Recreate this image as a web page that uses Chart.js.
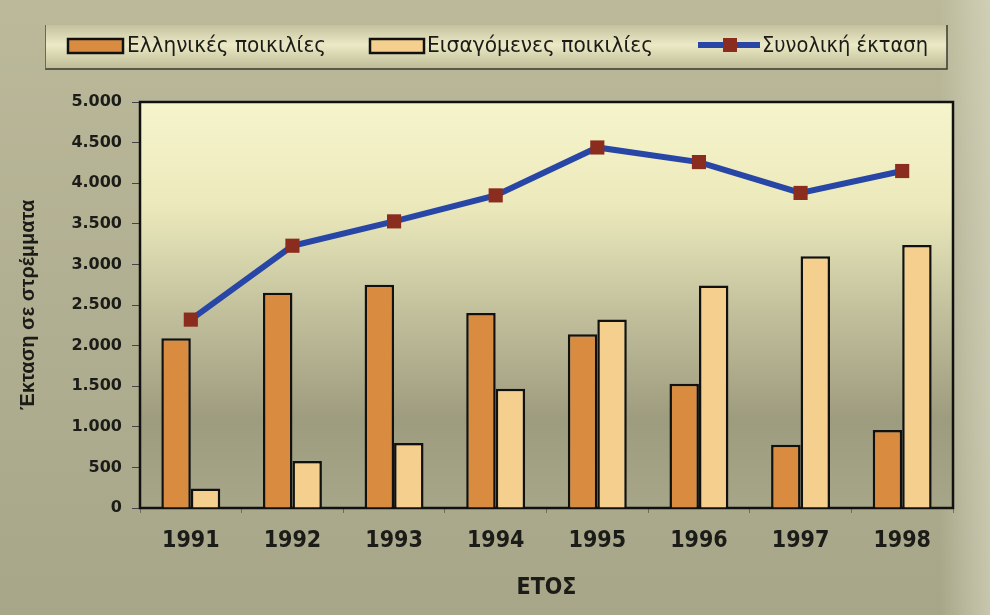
<!DOCTYPE html>
<html><head><meta charset="utf-8">
<script src="https://cdn.jsdelivr.net/npm/chart.js@4.4.1/dist/chart.umd.min.js"></script>
<style>html,body{margin:0;padding:0;background:#b3b192;}#wrap{width:990px;height:615px;}</style>
</head><body><div id="wrap"><canvas id="c" width="990" height="615"></canvas></div>
<script>
// ---- data ----
const years = ['1991', '1992', '1993', '1994', '1995', '1996', '1997', '1998'];
const greekVarieties = [2090, 2650, 2750, 2400, 2140, 1530, 780, 960];
const importedVarieties = [240, 580, 800, 1470, 2320, 2740, 3100, 3240];
const totalArea = [2320, 3230, 3530, 3850, 4440, 4260, 3880, 4150];
const seriesNames = ['Ελληνικές ποικιλίες', 'Εισαγόμενες ποικιλίες', 'Συνολική έκταση'];
const yAxisTitle = 'Έκταση σε στρέμματα';
const xAxisTitle = 'ΕΤΟΣ';
const yMin = 0, yMax = 5000, yStep = 500;

// ---- styles ----
const C_ORANGE = '#d98c40';
const C_LIGHT = '#f5cf8e';
const C_LINE = '#2846a6';
const C_MARK = '#8a2d1e';
const TXT = '#1b1b17';
const NARROW = "'Liberation Sans Narrow','DejaVu Sans Condensed','Liberation Sans',Arial,sans-serif";

function fmt(v){ return String(v).replace(/\B(?=(\d{3})+(?!\d))/g, '.'); }

function fitText(ctx, text, x, y, w, font){
  ctx.save();
  ctx.font = font;
  const m = ctx.measureText(text).width;
  ctx.translate(x, y);
  ctx.scale(w / m, 1);
  ctx.fillText(text, 0, 0);
  ctx.restore();
}

const bgPlugin = {
  id: 'bg',
  beforeDraw(chart){
    const ctx = chart.ctx, W = chart.width, H = chart.height, a = chart.chartArea;
    ctx.save();
    let g = ctx.createLinearGradient(0, 0, 0, H);
    g.addColorStop(0, '#bbb99a'); g.addColorStop(0.5, '#b1af91'); g.addColorStop(1, '#a8a688');
    ctx.fillStyle = g; ctx.fillRect(0, 0, W, H);
    let gr = ctx.createLinearGradient(940, 0, W, 0);
    gr.addColorStop(0, 'rgba(230,230,210,0)'); gr.addColorStop(1, 'rgba(225,225,205,0.55)');
    ctx.fillStyle = gr; ctx.fillRect(940, 0, W - 940, H);
    // legend box
    let lg = ctx.createLinearGradient(0, 25, 0, 69);
    lg.addColorStop(0, '#c4c29e'); lg.addColorStop(0.45, '#eceac6'); lg.addColorStop(1, '#bdbb96');
    ctx.fillStyle = lg; ctx.fillRect(45, 25, 902, 44);
    ctx.strokeStyle = '#3a3a30'; ctx.lineWidth = 1.5;
    ctx.beginPath(); ctx.moveTo(45, 69); ctx.lineTo(947, 69); ctx.lineTo(947, 25); ctx.stroke();
    ctx.strokeStyle = '#6a6a58'; ctx.lineWidth = 1;
    ctx.beginPath(); ctx.moveTo(45.5, 69); ctx.lineTo(45.5, 25); ctx.stroke();
    // plot area
    let pg = ctx.createLinearGradient(0, a.top, 0, a.bottom);
    pg.addColorStop(0, '#f6f4cb'); pg.addColorStop(0.25, '#eceabc');
    pg.addColorStop(0.55, '#bdbb98'); pg.addColorStop(0.78, '#9e9c7e'); pg.addColorStop(1, '#a8a688');
    ctx.fillStyle = pg; ctx.fillRect(a.left, a.top, a.right - a.left, a.bottom - a.top);
    ctx.restore();
  },
  beforeDatasetsDraw(chart){
    const ctx = chart.ctx, a = chart.chartArea;
    ctx.save();
    ctx.strokeStyle = '#111'; ctx.lineWidth = 2.5;
    ctx.strokeRect(a.left, a.top, a.right - a.left, a.bottom - a.top);
    ctx.restore();
  },
  afterDraw(chart){
    const ctx = chart.ctx;
    const ds = chart.data.datasets;
    ctx.save();
    ctx.fillStyle = ds[0].backgroundColor; ctx.fillRect(68, 39, 55, 14);
    ctx.strokeStyle = '#111'; ctx.lineWidth = 2.5; ctx.strokeRect(68, 39, 55, 14);
    ctx.fillStyle = ds[1].backgroundColor; ctx.fillRect(370, 39, 54, 14);
    ctx.strokeRect(370, 39, 54, 14);
    ctx.strokeStyle = ds[2].borderColor; ctx.lineWidth = 6;
    ctx.beginPath(); ctx.moveTo(698, 45); ctx.lineTo(760, 45); ctx.stroke();
    ctx.fillStyle = ds[2].pointBackgroundColor; ctx.fillRect(723, 38, 14, 14);
    ctx.fillStyle = TXT; ctx.textBaseline = 'middle'; ctx.textAlign = 'left';
    const f = "500 21px " + NARROW;
    fitText(ctx, ds[0].label, 127, 47, 199, f);
    fitText(ctx, ds[1].label, 427, 47, 226, f);
    fitText(ctx, ds[2].label, 762, 47, 166, f);
    ctx.restore();
  }
};

new Chart(document.getElementById('c'), {
  data: {
    labels: years,
    datasets: [
      { type: 'bar', label: seriesNames[0], data: greekVarieties, backgroundColor: C_ORANGE,
        borderColor: '#111', borderWidth: 2.5, borderSkipped: 'bottom', order: 2,
        categoryPercentage: 0.58, barPercentage: 1.0 },
      { type: 'bar', label: seriesNames[1], data: importedVarieties, backgroundColor: C_LIGHT,
        borderColor: '#111', borderWidth: 2.5, borderSkipped: 'bottom', order: 2,
        categoryPercentage: 0.58, barPercentage: 1.0 },
      { type: 'line', label: seriesNames[2], data: totalArea, borderColor: C_LINE, borderWidth: 6,
        pointStyle: 'rect', pointRadius: 10, pointBackgroundColor: C_MARK, pointBorderColor: C_MARK,
        pointBorderWidth: 0, tension: 0, fill: false, order: 0 }
    ]
  },
  options: {
    responsive: false,
    devicePixelRatio: 1,
    animation: false,
    layout: { padding: { left: 0, right: 37, top: 102, bottom: 0 } },
    plugins: { legend: { display: false }, tooltip: { enabled: false } },
    scales: {
      x: {
        afterFit(s){ s.height = 107; },
        grid: { display: true, drawOnChartArea: false, tickLength: 5, color: 'rgba(60,60,45,0.55)', offset: true },
        border: { display: false },
        ticks: { color: TXT, padding: 14, font: { family: NARROW, size: 23, weight: 'bold' } },
        title: { display: true, text: xAxisTitle, color: TXT, padding: { top: 0, bottom: 13 },
                 font: { family: NARROW, size: 23, weight: 'bold' } }
      },
      y: {
        min: yMin, max: yMax,
        afterFit(s){ s.width = 140; },
        grid: { display: true, drawOnChartArea: false, tickLength: 8, color: '#444' },
        border: { display: false },
        ticks: { stepSize: yStep, color: TXT, padding: 10, callback: v => fmt(v),
                 font: { family: "'DejaVu Sans',sans-serif", size: 16, weight: 'bold' } },
        title: { display: true, text: yAxisTitle, color: TXT, padding: { top: 16, bottom: 0 },
                 font: { family: "'Liberation Sans',Arial,sans-serif", size: 20, weight: 'bold' } }
      }
    }
  },
  plugins: [bgPlugin]
});
</script>
</body></html>
